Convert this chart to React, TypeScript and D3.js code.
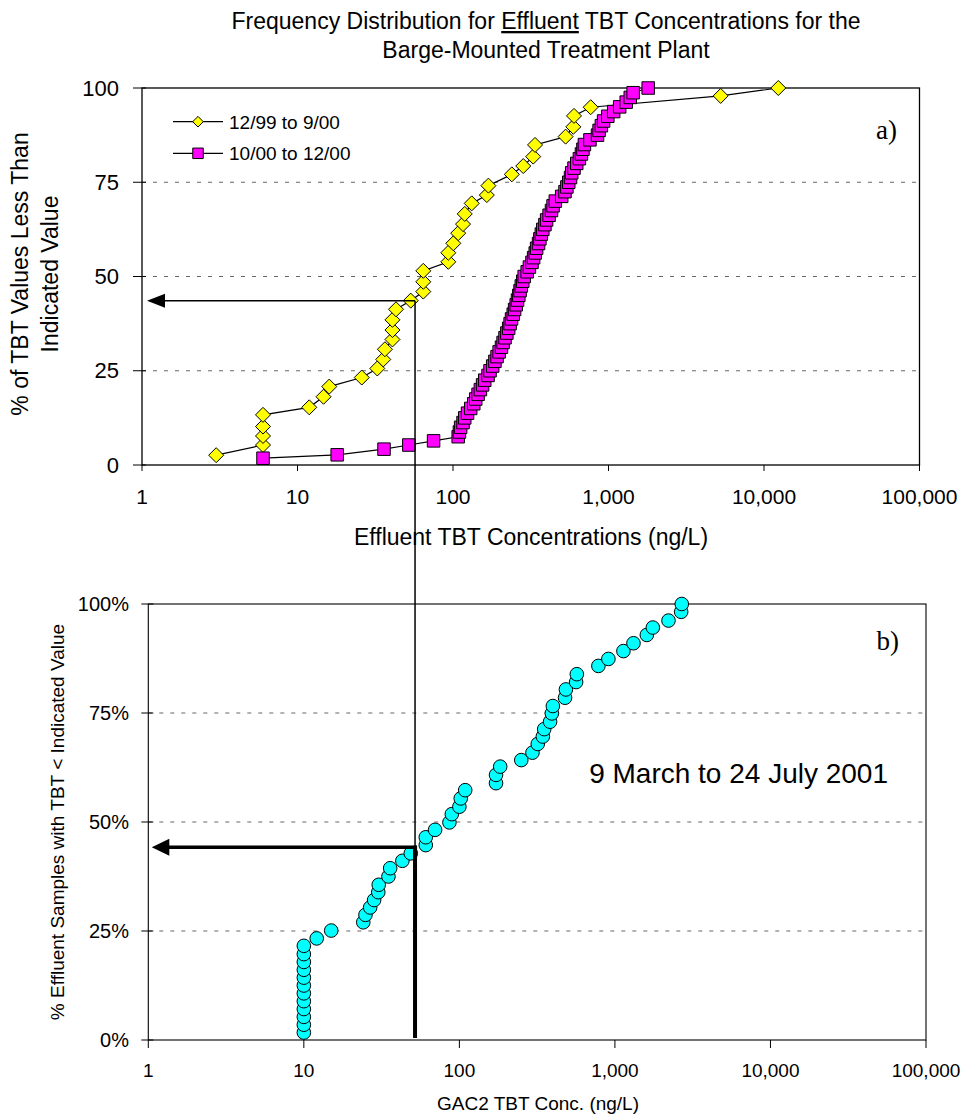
import React, { useEffect, useRef } from "react";
import * as d3 from "d3";

// a) 12/99 to 9/00 (yellow diamonds)
const yellowConc = [3, 6, 6, 6, 6, 11.9, 14.7, 16, 25.9, 32.6, 35.6, 36.5, 40.8, 40.8, 40.8, 43, 53.5, 64.4, 64.4, 64.4, 93.3, 93.3, 100.5, 108, 116, 119, 132, 165, 169, 239, 283, 328, 337, 530, 594, 600, 768, 5265, 12360];
const yellowPct = [2.6, 5.3, 7.7, 10.2, 13.3, 15.3, 18.1, 20.8, 23.2, 25.6, 28, 30.7, 33.3, 35.8, 38.5, 41.3, 43.6, 46, 48.6, 51.5, 53.9, 56.3, 58.8, 61.5, 63.9, 66.6, 69.4, 71.6, 74.1, 77.1, 79.3, 81.8, 84.9, 87.1, 89.7, 92.6, 94.9, 97.9, 100];

// a) 10/00 to 12/00 (magenta squares)
const magentaConc = [6, 18, 36, 52, 75, 108, 110, 112, 116, 119, 124, 130, 136, 140, 145, 150, 155, 160, 168, 173, 180, 186, 192, 198, 205, 210, 216, 222, 228, 233, 238, 244, 249, 255, 260, 265, 270, 275, 281, 287, 300, 310, 322, 330, 338, 345, 355, 362, 370, 378, 390, 400, 415, 430, 440, 455, 500, 525, 540, 555, 570, 580, 600, 625, 650, 670, 685, 700, 760, 850, 870, 900, 930, 990, 1080, 1180, 1300, 1380, 1440, 1800];
const magentaPct = [1.8, 2.7, 4.2, 5.3, 6.4, 7.5, 8.75, 10, 11.25, 12.5, 13.75, 15, 16.25, 17.5, 18.75, 20, 21.25, 22.5, 23.75, 25, 26.25, 27.5, 28.75, 30, 31.25, 32.5, 33.75, 35, 36.25, 37.5, 38.75, 40, 41.25, 42.5, 43.75, 45, 46.25, 47.5, 48.75, 50, 51.25, 52.5, 53.75, 55, 56.25, 57.5, 58.75, 60, 61.25, 62.5, 63.75, 65, 66.25, 67.5, 68.75, 70, 71.25, 72.5, 73.75, 75, 76.25, 77.5, 78.75, 80, 81.25, 82.5, 83.75, 85, 86.25, 87.5, 88.75, 90, 91.25, 92.5, 93.75, 95, 96.25, 97.5, 98.75, 100];

// b) 9 March to 24 July 2001 (cyan circles)
const cyanConc = [10, 10, 10, 10, 10, 10, 10, 10, 10, 10, 10, 10, 12.1, 15, 24.1, 24.9, 26.7, 28.3, 30.1, 30.3, 35, 35.9, 43, 48.7, 60.8, 60.8, 69.8, 86.3, 89.4, 100, 102, 109, 172, 172, 183, 250, 295, 319, 344, 351, 383, 393, 399, 478, 484, 563, 569, 783, 908, 1134, 1316, 1604, 1753, 2210, 2666, 2690];
const cyanPct = [1.7, 3.5, 5.3, 7.1, 8.9, 10.7, 12.5, 14.3, 16.1, 17.9, 19.7, 21.6, 23.3, 25.1, 27, 28.7, 30.4, 32.1, 33.9, 35.6, 37.5, 39.4, 41.1, 42.8, 44.7, 46.5, 48.2, 49.9, 51.8, 53.5, 55.4, 57.3, 58.9, 60.8, 62.7, 64.2, 65.9, 67.9, 69.6, 71.3, 73, 74.9, 76.6, 78.5, 80.4, 82.1, 83.9, 85.8, 87.4, 89.2, 91, 92.9, 94.6, 96.2, 98.2, 100];

const xTicks = [1, 10, 100, 1000, 10000, 100000];
const yTicks = [0, 25, 50, 75, 100];
const gridTicks = [25, 50, 75];

const legendLabels = ["12/99 to 9/00", "10/00 to 12/00"];

// reading off the arrows
const medianConc = 57;
const medianPctTop = 43.6;
const medianPctBot = 44.2;

const SANS = "'Liberation Sans', Arial, sans-serif";
const SERIF = "'Liberation Serif', 'Times New Roman', serif";

const diamond = (r) => `M0,${-r}L${r},0L0,${r}L${-r},0Z`;
const square = (s) => `M${-s / 2},${-s / 2}h${s}v${s}h${-s}Z`;

function App() {
  const ref = useRef(null);

  useEffect(() => {
    const svg = d3.select(ref.current);
    svg.selectAll("*").remove();

    // title
    const title = svg
      .append("text")
      .attr("x", 546)
      .attr("y", 29)
      .attr("text-anchor", "middle")
      .attr("font-family", SANS)
      .attr("font-size", 23);
    title.append("tspan").text("Frequency Distribution for ");
    title.append("tspan").attr("text-decoration", "underline").text("Effluent");
    title.append("tspan").text(" TBT Concentrations for the");
    svg
      .append("text")
      .attr("x", 546)
      .attr("y", 58)
      .attr("text-anchor", "middle")
      .attr("font-family", SANS)
      .attr("font-size", 23)
      .text("Barge-Mounted Treatment Plant");

    // ---------- top chart ----------
    const xTop = d3.scaleLog().domain([1, 100000]).range([142, 919.5]);
    const yTop = d3.scaleLinear().domain([0, 100]).range([465, 88]);
    const gTop = svg.append("g");

    gTop
      .selectAll(".grid")
      .data(gridTicks)
      .join("line")
      .attr("x1", xTop(1))
      .attr("x2", xTop(100000))
      .attr("y1", (d) => yTop(d))
      .attr("y2", (d) => yTop(d))
      .attr("stroke", "#666")
      .attr("stroke-dasharray", "4,7");

    gTop
      .append("rect")
      .attr("x", xTop(1))
      .attr("y", yTop(100))
      .attr("width", xTop(100000) - xTop(1))
      .attr("height", yTop(0) - yTop(100))
      .attr("fill", "none")
      .attr("stroke", "#000")
      .attr("stroke-width", 1.3);

    gTop
      .selectAll(".xt")
      .data(xTicks)
      .join("line")
      .attr("x1", (d) => xTop(d))
      .attr("x2", (d) => xTop(d))
      .attr("y1", yTop(0))
      .attr("y2", yTop(0) + 6)
      .attr("stroke", "#000");
    gTop
      .selectAll(".xl")
      .data(xTicks)
      .join("text")
      .attr("x", (d) => xTop(d))
      .attr("y", 504)
      .attr("text-anchor", "middle")
      .attr("font-family", SANS)
      .attr("font-size", 21)
      .text((d) => d3.format(",")(d));

    gTop
      .selectAll(".yt")
      .data(yTicks)
      .join("line")
      .attr("x1", xTop(1) - 9)
      .attr("x2", xTop(1) + 4)
      .attr("y1", (d) => yTop(d))
      .attr("y2", (d) => yTop(d))
      .attr("stroke", "#000");
    gTop
      .selectAll(".yl")
      .data(yTicks)
      .join("text")
      .attr("x", 119)
      .attr("y", (d) => yTop(d) + 7.5)
      .attr("text-anchor", "end")
      .attr("font-family", SANS)
      .attr("font-size", 22)
      .text((d) => d);

    const yTitle = gTop
      .append("text")
      .attr("transform", "translate(20,274) rotate(-90)")
      .attr("text-anchor", "middle")
      .attr("font-family", SANS)
      .attr("font-size", 23);
    yTitle.append("tspan").attr("x", 0).attr("dy", 8).text("% of TBT Values Less Than");
    yTitle.append("tspan").attr("x", 0).attr("dy", 30).text("Indicated Value");

    gTop
      .append("text")
      .attr("x", 531)
      .attr("y", 545)
      .attr("text-anchor", "middle")
      .attr("font-family", SANS)
      .attr("font-size", 23)
      .text("Effluent TBT Concentrations (ng/L)");

    const lineTop = d3
      .line()
      .x((d) => xTop(d[0]))
      .y((d) => yTop(d[1]));

    const yellowData = yellowConc.map((v, i) => [v, yellowPct[i]]);
    const magentaData = magentaConc.map((v, i) => [v, magentaPct[i]]);

    gTop
      .append("path")
      .attr("d", lineTop(yellowData))
      .attr("fill", "none")
      .attr("stroke", "#000")
      .attr("stroke-width", 1.2);
    gTop
      .append("path")
      .attr("d", lineTop(magentaData))
      .attr("fill", "none")
      .attr("stroke", "#000")
      .attr("stroke-width", 1.2);

    gTop
      .selectAll(".ydia")
      .data(yellowData)
      .join("path")
      .attr("d", diamond(7.5))
      .attr("transform", (d) => `translate(${xTop(d[0])},${yTop(d[1])})`)
      .attr("fill", "#ffff00")
      .attr("stroke", "#000")
      .attr("stroke-width", 1);
    gTop
      .selectAll(".msq")
      .data(magentaData)
      .join("path")
      .attr("d", square(12.5))
      .attr("transform", (d) => `translate(${xTop(d[0])},${yTop(d[1])})`)
      .attr("fill", "#ff00ff")
      .attr("stroke", "#000")
      .attr("stroke-width", 1);

    // legend
    const legendY = [121.7, 153.3];
    legendLabels.forEach((lab, i) => {
      const lg = gTop.append("g").attr("transform", `translate(0,${legendY[i]})`);
      lg.append("line").attr("x1", 173).attr("x2", 223).attr("stroke", "#000").attr("stroke-width", 1.2);
      lg.append("path")
        .attr("d", i === 0 ? diamond(5.3) : square(10.5))
        .attr("transform", "translate(198,0)")
        .attr("fill", i === 0 ? "#ffff00" : "#ff00ff")
        .attr("stroke", "#000");
      lg.append("text")
        .attr("x", 229)
        .attr("y", 7)
        .attr("font-family", SANS)
        .attr("font-size", 19)
        .text(lab);
    });

    gTop
      .append("text")
      .attr("x", 897)
      .attr("y", 139)
      .attr("text-anchor", "end")
      .attr("font-family", SERIF)
      .attr("font-size", 27)
      .text("a)");

    // ---------- bottom chart ----------
    const xBot = d3.scaleLog().domain([1, 100000]).range([148.3, 926]);
    const yBot = d3.scaleLinear().domain([0, 100]).range([1040, 604]);
    const gBot = svg.append("g");

    gBot
      .selectAll(".grid")
      .data(gridTicks)
      .join("line")
      .attr("x1", xBot(1))
      .attr("x2", xBot(100000))
      .attr("y1", (d) => yBot(d))
      .attr("y2", (d) => yBot(d))
      .attr("stroke", "#666")
      .attr("stroke-dasharray", "4,7");

    gBot
      .append("rect")
      .attr("x", xBot(1))
      .attr("y", yBot(100))
      .attr("width", xBot(100000) - xBot(1))
      .attr("height", yBot(0) - yBot(100))
      .attr("fill", "none")
      .attr("stroke", "#000")
      .attr("stroke-width", 1.1);

    gBot
      .selectAll(".xt")
      .data(xTicks)
      .join("line")
      .attr("x1", (d) => xBot(d))
      .attr("x2", (d) => xBot(d))
      .attr("y1", yBot(0))
      .attr("y2", yBot(0) + 8)
      .attr("stroke", "#000");
    gBot
      .selectAll(".xl")
      .data(xTicks)
      .join("text")
      .attr("x", (d) => xBot(d))
      .attr("y", 1077)
      .attr("text-anchor", "middle")
      .attr("font-family", SANS)
      .attr("font-size", 19)
      .text((d) => d3.format(",")(d));

    gBot
      .selectAll(".yt")
      .data(yTicks)
      .join("line")
      .attr("x1", xBot(1) - 7)
      .attr("x2", xBot(1) + 5)
      .attr("y1", (d) => yBot(d))
      .attr("y2", (d) => yBot(d))
      .attr("stroke", "#000");
    gBot
      .selectAll(".yl")
      .data(yTicks)
      .join("text")
      .attr("x", 129)
      .attr("y", (d) => yBot(d) + 7)
      .attr("text-anchor", "end")
      .attr("font-family", SANS)
      .attr("font-size", 20)
      .text((d) => d + "%");

    gBot
      .append("text")
      .attr("transform", "translate(57,822) rotate(-90)")
      .attr("y", 7)
      .attr("text-anchor", "middle")
      .attr("font-family", SANS)
      .attr("font-size", 19)
      .text("% Effluent Samples with TBT < Indicated Value");

    gBot
      .append("text")
      .attr("x", 538)
      .attr("y", 1110)
      .attr("text-anchor", "middle")
      .attr("font-family", SANS)
      .attr("font-size", 19)
      .text("GAC2 TBT Conc. (ng/L)");

    gBot
      .selectAll(".cc")
      .data(cyanConc.map((v, i) => [v, cyanPct[i]]))
      .join("circle")
      .attr("cx", (d) => xBot(d[0]))
      .attr("cy", (d) => yBot(d[1]))
      .attr("r", 6.8)
      .attr("fill", "#00ffff")
      .attr("stroke", "#000")
      .attr("stroke-width", 1);

    gBot
      .append("text")
      .attr("x", 888)
      .attr("y", 783)
      .attr("text-anchor", "end")
      .attr("font-family", SANS)
      .attr("font-size", 28)
      .text("9 March to 24 July 2001");

    gBot
      .append("text")
      .attr("x", 899)
      .attr("y", 650)
      .attr("text-anchor", "end")
      .attr("font-family", SERIF)
      .attr("font-size", 27)
      .text("b)");

    // ---------- arrows ----------
    const ax = xTop(medianConc);
    const ayTop = yTop(medianPctTop);
    const ayBot = yBot(medianPctBot);
    const ann = svg.append("g");
    ann.append("line").attr("x1", ax).attr("x2", ax).attr("y1", ayTop).attr("y2", ayBot).attr("stroke", "#000").attr("stroke-width", 1.5);
    ann.append("line").attr("x1", ax).attr("x2", xTop(1) + 18).attr("y1", ayTop).attr("y2", ayTop).attr("stroke", "#000").attr("stroke-width", 1.5);
    ann.append("path")
      .attr("d", `M${xTop(1) + 5},${ayTop}L${xTop(1) + 23},${ayTop - 7}L${xTop(1) + 23},${ayTop + 7}Z`)
      .attr("fill", "#000");
    ann.append("line").attr("x1", ax).attr("x2", ax).attr("y1", ayBot - 1.5).attr("y2", yBot(0) - 2).attr("stroke", "#000").attr("stroke-width", 4);
    ann.append("line").attr("x1", ax + 2).attr("x2", xBot(1) + 20).attr("y1", ayBot).attr("y2", ayBot).attr("stroke", "#000").attr("stroke-width", 3.5);
    ann.append("path")
      .attr("d", `M${xBot(1) + 3.5},${ayBot}L${xBot(1) + 21},${ayBot - 8.5}L${xBot(1) + 21},${ayBot + 8.5}Z`)
      .attr("fill", "#000");
  }, []);

  return (
    <svg
      ref={ref}
      width={969}
      height={1118}
      style={{ position: "absolute", left: 0, top: 0, display: "block", background: "#fff" }}
    />
  );
}

export default App;
